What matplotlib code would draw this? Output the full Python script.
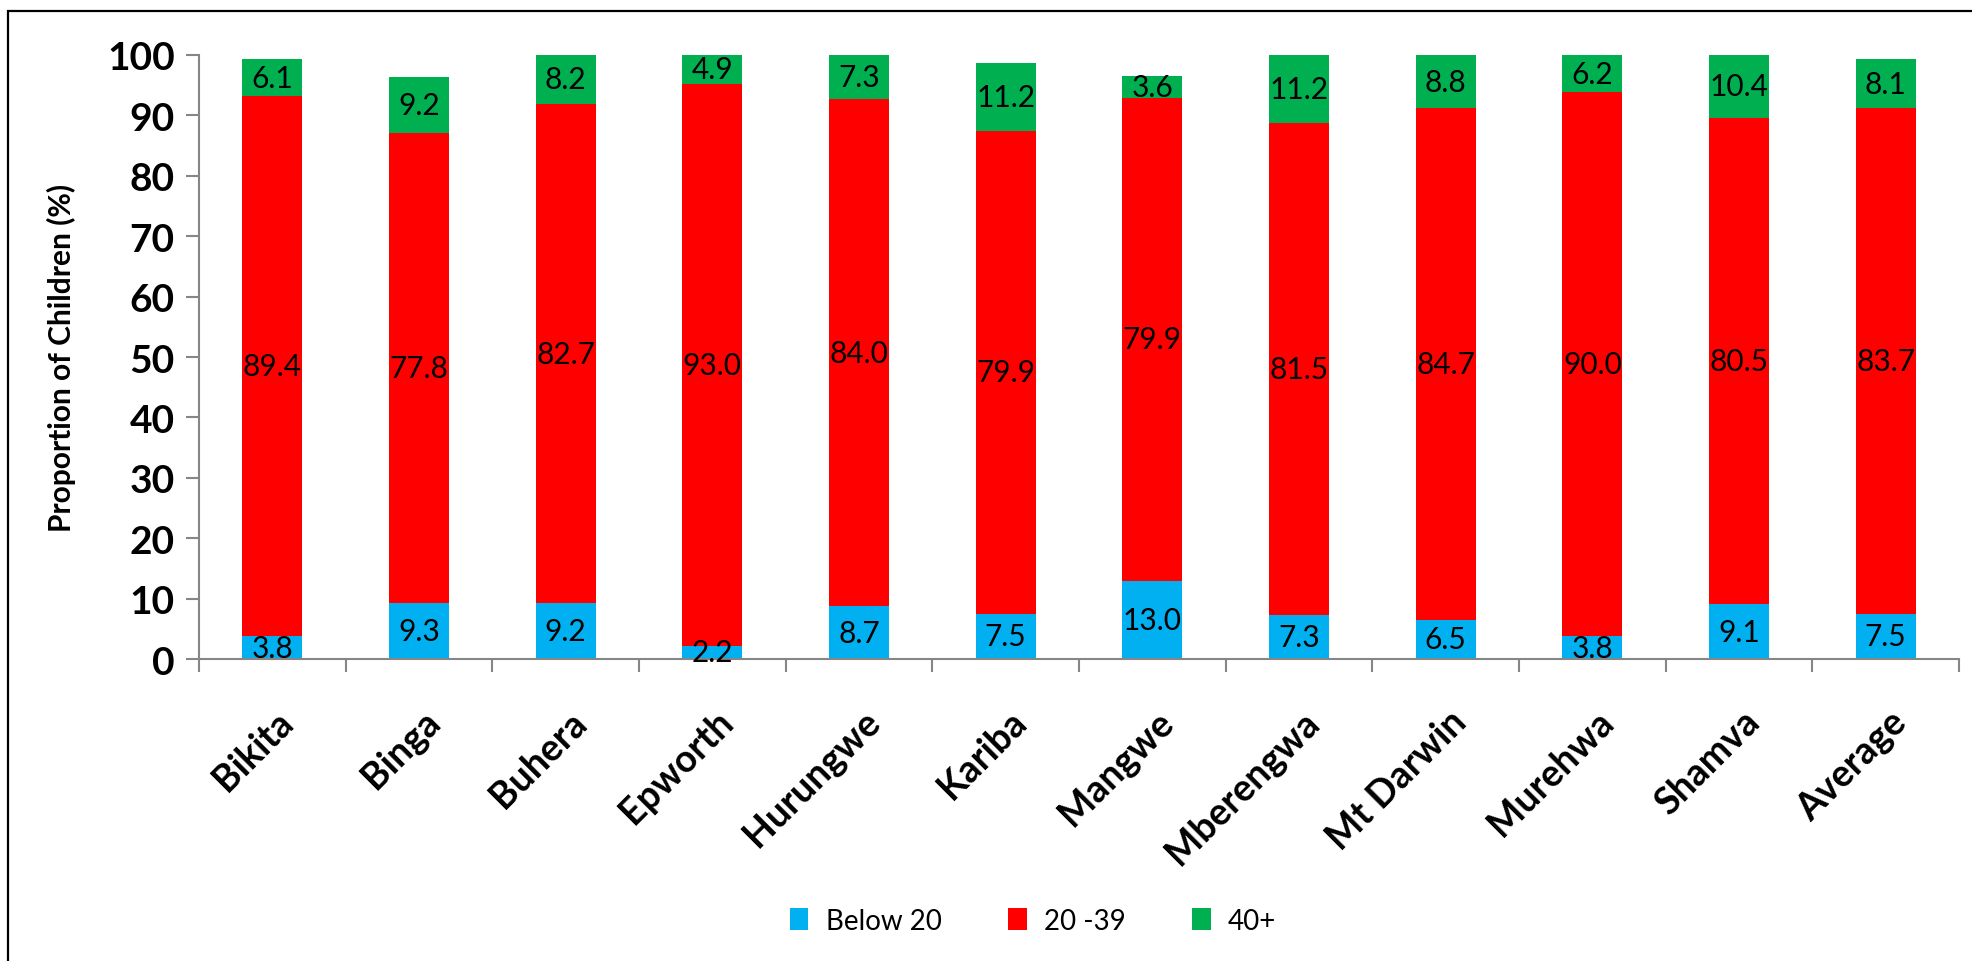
import numpy as np
import matplotlib
matplotlib.use('Agg')
import matplotlib.pyplot as plt
import matplotlib.transforms as mtransforms
from matplotlib.patches import Rectangle

districts = ['Bikita', 'Binga', 'Buhera', 'Epworth', 'Hurungwe', 'Kariba', 'Mangwe',
             'Mberengwa', 'Mt Darwin', 'Murehwa', 'Shamva', 'Average']
below20 = [3.8, 9.3, 9.2, 2.2, 8.7, 7.5, 13.0, 7.3, 6.5, 3.8, 9.1, 7.5]
age20to39 = [89.4, 77.8, 82.7, 93.0, 84.0, 79.9, 79.9, 81.5, 84.7, 90.0, 80.5, 83.7]
age40plus = [6.1, 9.2, 8.2, 4.9, 7.3, 11.2, 3.6, 11.2, 8.8, 6.2, 10.4, 8.1]
series_names = ['Below 20', '20 -39', '40+']
yticks = [0, 10, 20, 30, 40, 50, 60, 70, 80, 90, 100]

plt.rcParams['font.family'] = ['Lato', 'DejaVu Sans']

fig = plt.figure(figsize=(19.72, 9.62), dpi=100)
ax = fig.add_axes([0.1009, 0.3139, 0.8925, 0.6279])

x = np.arange(len(districts))
width = 0.41
bottom2 = np.array(below20)
bottom3 = bottom2 + np.array(age20to39)
b1 = ax.bar(x, below20, width, color='#00B0F0', label=series_names[0])
b2 = ax.bar(x, age20to39, width, bottom=bottom2, color='#FF0000', label=series_names[1])
b3 = ax.bar(x, age40plus, width, bottom=bottom3, color='#00B050', label=series_names[2])
for bars in (b1, b2, b3):
    ax.bar_label(bars, fmt='%.1f', label_type='center', fontsize=21.5, color='black')

ax.set_xlim(-0.5, len(districts) - 0.5)
ax.set_ylim(0, 100)
ax.set_yticks(yticks)
ax.set_yticklabels([str(t) for t in yticks], fontsize=28, fontweight='bold')
ax.set_xticks(np.arange(len(districts) + 1) - 0.5)
ax.set_xticklabels([])
ax.set_xticks(x, minor=True)
ax.set_xticklabels(districts, minor=True, rotation=45, ha='right', va='center',
                   rotation_mode='anchor', fontsize=27, fontweight='bold')
ax.tick_params(axis='x', which='minor', length=0, pad=41)
ax.tick_params(axis='both', which='major', length=9.5, width=1.5, color='#868686', direction='out')
ax.tick_params(axis='y', pad=8)
# nudge rotated labels a little to the right of the bar centre
shift = mtransforms.ScaledTranslation(0.15, 0, fig.dpi_scale_trans)
for lab in ax.get_xticklabels(minor=True):
    lab.set_transform(lab.get_transform() + shift)
for side in ['top', 'right']:
    ax.spines[side].set_visible(False)
for side in ['left', 'bottom']:
    ax.spines[side].set_color('#868686')
    ax.spines[side].set_linewidth(1.5)
ax.set_ylabel('Proportion of Children (%)', fontsize=21.5, fontweight='bold')
ax.yaxis.set_label_coords(-0.0699, 0.5)

fig.legend(handles=[b1, b2, b3], labels=series_names, loc='center',
           bbox_to_anchor=(0.524, 0.042), ncol=3, frameon=False, fontsize=20,
           handlelength=0.65, handleheight=0.83, columnspacing=2.4, handletextpad=0.63)

fig.patches.append(Rectangle((0.004, -0.05), 1.2, 0.9875 + 0.05, transform=fig.transFigure,
                             fill=False, edgecolor='black', linewidth=1.6))

fig.savefig('out.png', dpi=100)
